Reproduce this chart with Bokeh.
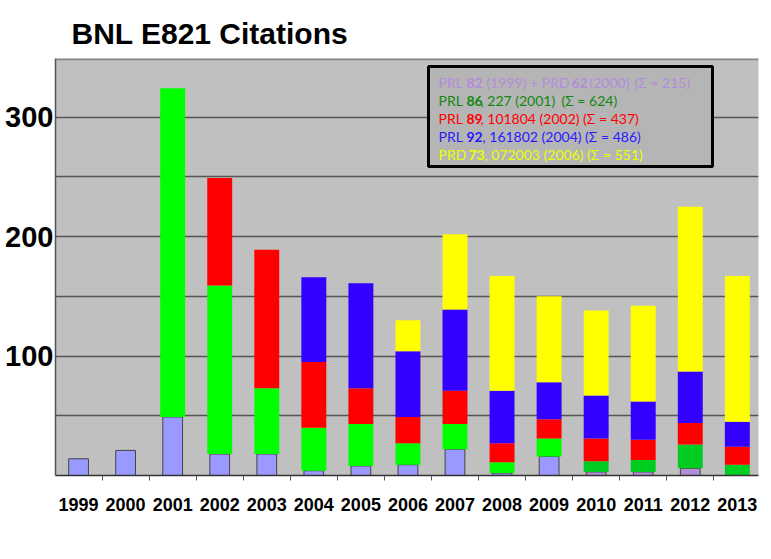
from bokeh.plotting import figure
from bokeh.models import Range1d, FixedTicker, Label, BoxAnnotation, Span, ColumnDataSource
from bokeh.embed import file_html
from bokeh.resources import INLINE

# ---- data (citations per year, per paper) ----
years = [1999, 2000, 2001, 2002, 2003, 2004, 2005, 2006, 2007, 2008, 2009, 2010, 2011, 2012, 2013]
prl82_prd62 = [14, 21, 49, 18, 18, 4, 8, 9, 22, 2, 16, 3, 3, 6, 0]
prl86 = [0, 0, 275, 141, 55, 36, 35, 18, 21, 9, 15, 9, 10, 20, 9]
prl89 = [0, 0, 0, 90, 116, 55, 30, 22, 28, 16, 16, 19, 17, 18, 15]
prl92 = [0, 0, 0, 0, 0, 71, 88, 55, 68, 44, 31, 36, 32, 43, 21]
prd73 = [0, 0, 0, 0, 0, 0, 0, 26, 63, 96, 72, 71, 80, 138, 122]
y_ticks = [100, 200, 300]
grid_ticks = [50, 100, 150, 200, 250, 300]

# legend text pieces (bold pieces are the volume numbers)
legend_lines = [
    [("PRL", False), ("82", True), ("(1999) + PRD", False), ("62", True), ("(2000)", False), ("(Σ = 215)", False)],
    [("PRL", False), ("86", True), (", 227 (2001)", False), ("(Σ = 624)", False)],
    [("PRL", False), ("89", True), (", 101804 (2002) (Σ = 437)", False)],
    [("PRL", False), ("92", True), (", 161802 (2004) (Σ = 486)", False)],
    [("PRD", False), ("73", True), (", 072003 (2006) (Σ = 551)", False)],
]

X0, X1 = 1998.51, 2013.45
Y0, Y1 = 0, 349

p = figure(width=763, height=551, output_backend="svg", toolbar_location=None,
           x_range=Range1d(X0, X1), y_range=Range1d(Y0, Y1),
           min_border_top=58, min_border_bottom=76, min_border_right=5, min_border_left=55)
p.background_fill_color = "#c0c0c0"
p.border_fill_color = "white"
p.outline_line_color = None

p.title.text = "BNL E821 Citations"
p.title.text_font = "Liberation Sans"
p.title.text_font_size = "30px"
p.title.text_font_style = "bold"
p.title.text_color = "black"
p.title.align = "left"
p.title.offset = 16
p.title.standoff = 18

# grids
p.xgrid.visible = False
p.ygrid.ticker = FixedTicker(ticks=grid_ticks)
p.ygrid.grid_line_color = "#555555"
p.ygrid.grid_line_width = 1.5

# x axis
p.xaxis.ticker = FixedTicker(ticks=years, minor_ticks=[y - 0.5 for y in years] + [years[-1] + 0.5])
p.xaxis.major_tick_out = 0
p.xaxis.major_tick_in = 0
p.xaxis.minor_tick_out = 5
p.xaxis.minor_tick_in = 0
p.xaxis.minor_tick_line_color = "#555555"
p.xaxis.axis_line_color = "#333333"
p.xaxis.axis_line_width = 1.5
p.xaxis.major_label_text_font = "Liberation Sans"
p.xaxis.major_label_text_font_size = "18px"
p.xaxis.major_label_text_font_style = "bold"
p.xaxis.major_label_text_color = "black"
p.xaxis.major_label_standoff = 17

# y axis
p.yaxis.ticker = FixedTicker(ticks=y_ticks)
p.yaxis.major_tick_out = 0
p.yaxis.major_tick_in = 0
p.yaxis.minor_tick_out = 0
p.yaxis.minor_tick_in = 0
p.yaxis.axis_line_color = "#555555"
p.yaxis.axis_line_width = 1.5
p.yaxis.major_label_text_font = "Liberation Sans"
p.yaxis.major_label_text_font_size = "29px"
p.yaxis.major_label_text_font_style = "bold"
p.yaxis.major_label_text_color = "black"
p.yaxis.major_label_standoff = 2

p.add_layout(Span(location=Y1 - 0.6, dimension="width", line_color="#888888", line_width=2))

# bars
base = prl82_prd62[:]
lb = dict(x=[], top=[], color=[])
for y, v in zip(years, prl82_prd62):
    if v > 0:
        lb["x"].append(y); lb["top"].append(v)
        lb["color"].append("#9999ff" if y < 2010 else "#b08fd6")
p.vbar(x="x", top="top", bottom=0, width=0.42, fill_color="color", line_color="#444444",
       line_width=1, source=ColumnDataSource(lb))

series = [
    (prl86, "#00ff00", "#00cc22"),
    (prl89, "#ff0000", "#ff0000"),
    (prl92, "#3300ff", "#3300ff"),
    (prd73, "#ffff00", "#ffff00"),
]
for vals, c_left, c_right in series:
    d = dict(x=[], bottom=[], top=[], color=[])
    for i, (y, v) in enumerate(zip(years, vals)):
        if v > 0:
            d["x"].append(y); d["bottom"].append(base[i]); d["top"].append(base[i] + v)
            d["color"].append(c_left if y < 2010 else c_right)
        base[i] += v
    p.vbar(x="x", top="top", bottom="bottom", width=0.53, fill_color="color",
           line_color=None, source=ColumnDataSource(d))

# legend box (annotation positions given in page pixels, mapped to data)
FL, FR, FT, FB = 55.0, 758.0, 58.0, 475.0
def px2x(px):
    return X0 + (px - FL) * (X1 - X0) / (FR - FL)
def py2y(py):
    return Y0 + (FB - py) * (Y1 - Y0) / (FB - FT)

p.add_layout(BoxAnnotation(left=px2x(428), right=px2x(712), top=py2y(66), bottom=py2y(166),
                           fill_color="#b5b5b5", fill_alpha=1.0, line_color="black",
                           line_width=3, line_alpha=1.0))

line_colors = ["#b38bdc", "#128812", "#ff0000", "#2a1aff", "#eaff00"]
line_y = [82, 100, 118, 136, 154]
seg_x = [
    [438, 466, 486, 571, 589, 634],
    [438, 466, 480, 561],
    [438, 466, 480],
    [438, 466, 482],
    [438, 468, 484],
]
for li, segs in enumerate(legend_lines):
    for si, (txt, bold) in enumerate(segs):
        p.add_layout(Label(x=px2x(seg_x[li][si]), y=py2y(line_y[li]), text=txt,
                           text_font="Lato", text_font_size="14px",
                           text_font_style="bold" if bold else "normal",
                           text_color=line_colors[li], text_baseline="middle",
                           text_align="left"))

open("out.html", "w").write(file_html(p, INLINE))
